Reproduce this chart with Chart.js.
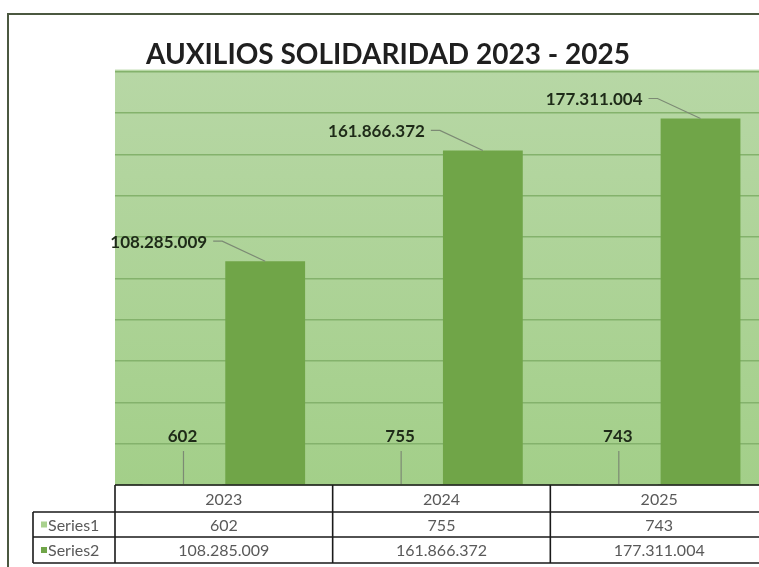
<!DOCTYPE html>
<html><head><meta charset="utf-8">
<script src="https://cdn.jsdelivr.net/npm/chart.js@4/dist/chart.umd.min.js"></script>
<style>
html,body{margin:0;padding:0;background:#fff;overflow:hidden;width:759px;height:567px;}
#frame{position:absolute;left:7px;top:13px;width:800px;height:600px;border-top:2px solid #4b5840;border-left:2px solid #4b5840;background:#fff;}
#wrap{position:absolute;left:8px;top:14px;width:770px;height:553px;}
</style></head><body>
<div id="frame"></div>
<div id="wrap"><canvas id="c" width="770" height="553"></canvas></div>
<script>
const categories = ['2023', '2024', '2025'];
const series1 = [602, 755, 743];
const series2 = [108285009, 161866372, 177311004];
const seriesNames = ['Series1', 'Series2'];
const seriesColors = ['#a9d18e', '#70a548'];
const chartTitle = 'AUXILIOS SOLIDARIDAD 2023 - 2025';
const yMax = 200000000;
const yStep = 20000000;

function fmt(v) { return String(v).replace(/\B(?=(\d{3})+(?!\d))/g, '.'); }

const bgPlugin = {
  id: 'bg',
  beforeDraw(chart) {
    const { ctx, chartArea: a } = chart;
    const g = ctx.createLinearGradient(0, a.top, 0, a.bottom);
    g.addColorStop(0, '#b7d7a5');
    g.addColorStop(1, '#a3cf89');
    ctx.save();
    ctx.fillStyle = g;
    ctx.fillRect(a.left, a.top - 2, a.right - a.left, a.bottom - a.top + 2);
    ctx.restore();
  }
};

const labelPlugin = {
  id: 'labels',
  afterDatasetsDraw(chart) {
    const { ctx, chartArea: a } = chart;
    ctx.save();
    ctx.font = 'bold 17px Lato';
    ctx.fillStyle = '#1e2a18';
    ctx.strokeStyle = '#7c8a74';
    ctx.lineWidth = 1.2;
    const m2 = chart.getDatasetMeta(1);
    m2.data.forEach((bar, i) => {
      const tx = bar.x - 58, ty = bar.y - 19;
      ctx.textAlign = 'right';
      ctx.textBaseline = 'middle';
      ctx.fillText(fmt(series2[i]), tx, ty);
      ctx.beginPath();
      ctx.moveTo(tx + 6, ty - 1);
      ctx.lineTo(tx + 15, ty - 1);
      ctx.lineTo(bar.x, bar.y);
      ctx.stroke();
    });
    const m1 = chart.getDatasetMeta(0);
    m1.data.forEach((bar, i) => {
      ctx.textAlign = 'center';
      ctx.textBaseline = 'middle';
      ctx.fillText(fmt(series1[i]), bar.x, a.bottom - 48);
      ctx.beginPath();
      ctx.moveTo(bar.x + 1, a.bottom - 34);
      ctx.lineTo(bar.x + 1, a.bottom - 1);
      ctx.stroke();
    });
    ctx.restore();
  }
};

const tablePlugin = {
  id: 'table',
  afterDraw(chart) {
    const { ctx, chartArea: a, scales } = chart;
    const xs = scales.x;
    const n = categories.length;
    const cw = (a.right - a.left) / n;
    const rows = [a.bottom, a.bottom + 27, a.bottom + 52, a.bottom + 78];
    const legL = a.left - 82;
    ctx.save();
    ctx.strokeStyle = '#1a1a1a';
    ctx.lineWidth = 1.6;
    ctx.beginPath();
    ctx.moveTo(a.left, rows[0]); ctx.lineTo(a.right, rows[0]);
    for (let r = 1; r < rows.length; r++) { ctx.moveTo(legL, rows[r]); ctx.lineTo(a.right, rows[r]); }
    for (let i = 0; i <= n; i++) {
      const x = a.left + i * cw;
      ctx.moveTo(x, rows[0]); ctx.lineTo(x, rows[3]);
    }
    ctx.moveTo(legL, rows[1]); ctx.lineTo(legL, rows[3]);
    ctx.stroke();
    ctx.font = '16px Lato';
    ctx.fillStyle = '#595959';
    ctx.textAlign = 'center';
    ctx.textBaseline = 'middle';
    categories.forEach((c, i) => {
      const cx = xs.getPixelForValue(i);
      ctx.fillText(c, cx, (rows[0] + rows[1]) / 2 + 1);
      ctx.fillText(fmt(series1[i]), cx, (rows[1] + rows[2]) / 2 + 1);
      ctx.fillText(fmt(series2[i]), cx, (rows[2] + rows[3]) / 2 + 1);
    });
    ctx.textAlign = 'left';
    seriesNames.forEach((s, k) => {
      const cy = (rows[k + 1] + rows[k + 2]) / 2;
      ctx.fillStyle = seriesColors[k];
      ctx.fillRect(legL + 8, cy - 3, 6, 6);
      ctx.fillStyle = '#595959';
      ctx.fillText(s, legL + 15, cy + 1);
    });
    ctx.restore();
  }
};

new Chart(document.getElementById('c'), {
  type: 'bar',
  data: {
    labels: categories,
    datasets: [
      { label: seriesNames[0], data: series1, backgroundColor: seriesColors[0], categoryPercentage: 0.76, barPercentage: 0.965 },
      { label: seriesNames[1], data: series2, backgroundColor: seriesColors[1], categoryPercentage: 0.76, barPercentage: 0.965 }
    ]
  },
  options: {
    responsive: false,
    animation: false,
    layout: { padding: { left: 0, right: 10, top: 0, bottom: 82 } },
    plugins: {
      legend: { display: false },
      tooltip: { enabled: false },
      title: {
        display: true, text: chartTitle, color: '#1f1f1f',
        font: { family: 'Lato', size: 28, weight: 'bold' },
        padding: { top: 24, bottom: 0 }
      }
    },
    scales: {
      x: { display: false, offset: true },
      y: {
        min: 0, max: yMax,
        ticks: { stepSize: yStep, display: false },
        grid: { color: '#84b26c', lineWidth: 1.5, drawTicks: false },
        border: { display: false },
        afterFit(scale) { scale.width = 107; }
      }
    }
  },
  plugins: [bgPlugin, labelPlugin, tablePlugin]
});
</script>
</body></html>
